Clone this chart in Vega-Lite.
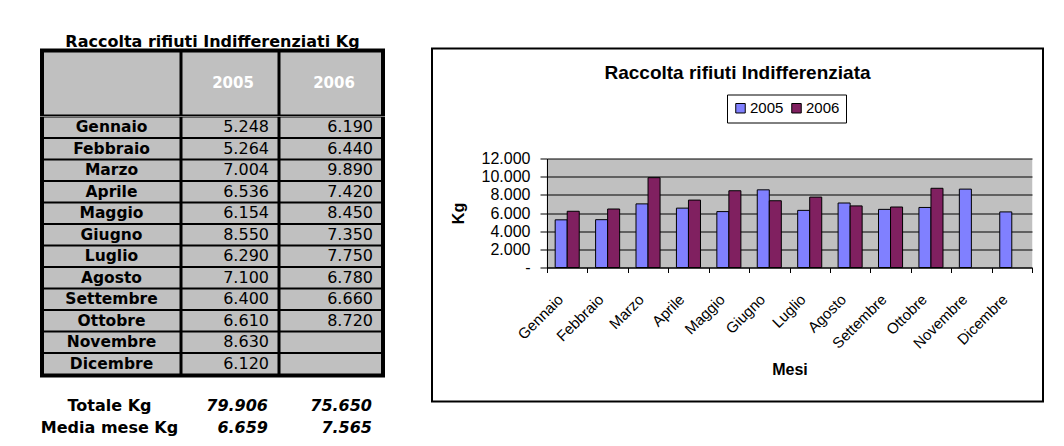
{
  "$schema": "https://vega.github.io/schema/vega-lite/v6.json",
  "background": "white",
  "padding": {"left": 40, "top": 33.5, "right": 0, "bottom": 0},
  "datasets": {
    "kg": [
      {"mese": "Gennaio", "anno": "2005", "kg": 5248},
      {"mese": "Febbraio", "anno": "2005", "kg": 5264},
      {"mese": "Marzo", "anno": "2005", "kg": 7004},
      {"mese": "Aprile", "anno": "2005", "kg": 6536},
      {"mese": "Maggio", "anno": "2005", "kg": 6154},
      {"mese": "Giugno", "anno": "2005", "kg": 8550},
      {"mese": "Luglio", "anno": "2005", "kg": 6290},
      {"mese": "Agosto", "anno": "2005", "kg": 7100},
      {"mese": "Settembre", "anno": "2005", "kg": 6400},
      {"mese": "Ottobre", "anno": "2005", "kg": 6610},
      {"mese": "Novembre", "anno": "2005", "kg": 8630},
      {"mese": "Dicembre", "anno": "2005", "kg": 6120},
      {"mese": "Gennaio", "anno": "2006", "kg": 6190},
      {"mese": "Febbraio", "anno": "2006", "kg": 6440},
      {"mese": "Marzo", "anno": "2006", "kg": 9890},
      {"mese": "Aprile", "anno": "2006", "kg": 7420},
      {"mese": "Maggio", "anno": "2006", "kg": 8450},
      {"mese": "Giugno", "anno": "2006", "kg": 7350},
      {"mese": "Luglio", "anno": "2006", "kg": 7750},
      {"mese": "Agosto", "anno": "2006", "kg": 6780},
      {"mese": "Settembre", "anno": "2006", "kg": 6660},
      {"mese": "Ottobre", "anno": "2006", "kg": 8720}
    ],
    "totali": [
      {"voce": "Totale Kg", "v2005": 79906, "v2006": 75650},
      {"voce": "Media mese Kg", "v2005": 6659, "v2006": 7565}
    ]
  },
  "config": {
    "view": {"stroke": null},
    "font": "DejaVu Sans",
    "locale": {"number": {"decimal": ",", "thousands": ".", "grouping": [3], "currency": ["", " €"]}},
    "text": {"color": "black"}
  },
  "spacing": 46,
  "hconcat": [
    {
      "title": {"text": "Raccolta rifiuti Indifferenziati Kg", "font": "DejaVu Sans", "fontSize": 16, "fontWeight": "bold", "color": "black", "anchor": "middle", "baseline": "top", "offset": -1},
      "spacing": 17,
      "vconcat": [
        {
          "spacing": 0,
          "vconcat": [
            {
              "spacing": 0,
              "hconcat": [
                {"width": 141, "height": 67.5, "view": {"fill": "black"},
                 "data": {"values": [{"anno": ""}]},
                 "mark": {"type": "rect", "fill": "#c0c0c0", "xOffset": 4, "x2Offset": -1.5, "yOffset": 4, "y2Offset": -1.5},
                 "encoding": {
                   "x": {"datum": 0, "type": "quantitative", "scale": {"domain": [0, 1], "nice": false, "zero": false}, "axis": null},
                   "x2": {"datum": 1},
                   "y": {"datum": 1, "type": "quantitative", "scale": {"domain": [0, 1], "nice": false, "zero": false}, "axis": null},
                   "y2": {"datum": 0}
                 }},
                {"width": 98, "height": 67.5, "view": {"fill": "black"},
                 "data": {"values": [{"anno": "2005"}]},
                 "layer": [
                   {"mark": {"type": "rect", "fill": "#c0c0c0", "xOffset": 1.5, "x2Offset": -1.5, "yOffset": 4, "y2Offset": -1.5},
                    "encoding": {
                      "x": {"datum": 0, "type": "quantitative", "scale": {"domain": [0, 1], "nice": false, "zero": false}, "axis": null},
                      "x2": {"datum": 1},
                      "y": {"datum": 1, "type": "quantitative", "scale": {"domain": [0, 1], "nice": false, "zero": false}, "axis": null},
                      "y2": {"datum": 0}
                    }},
                   {"mark": {"type": "text", "color": "white", "fontWeight": "bold", "fontSize": 15, "font": "DejaVu Sans", "dy": 1, "dx": 3},
                    "encoding": {"text": {"field": "anno", "type": "nominal"}}}
                 ]},
                {"width": 106, "height": 67.5, "view": {"fill": "black"},
                 "data": {"values": [{"anno": "2006"}]},
                 "layer": [
                   {"mark": {"type": "rect", "fill": "#c0c0c0", "xOffset": 1.5, "x2Offset": -4, "yOffset": 4, "y2Offset": -1.5},
                    "encoding": {
                      "x": {"datum": 0, "type": "quantitative", "scale": {"domain": [0, 1], "nice": false, "zero": false}, "axis": null},
                      "x2": {"datum": 1},
                      "y": {"datum": 1, "type": "quantitative", "scale": {"domain": [0, 1], "nice": false, "zero": false}, "axis": null},
                      "y2": {"datum": 0}
                    }},
                   {"mark": {"type": "text", "color": "white", "fontWeight": "bold", "fontSize": 15, "font": "DejaVu Sans", "dy": 1, "dx": 2},
                    "encoding": {"text": {"field": "anno", "type": "nominal"}}}
                 ]}
              ]
            },
            {
              "spacing": 0,
              "hconcat": [
                {"width": 141, "height": 261, "view": {"fill": "black"},
                 "data": {"name": "kg"},
                 "transform": [{"filter": "datum.anno == '2005'"}],
                 "encoding": {"y": {"field": "mese", "type": "nominal", "axis": null,
                   "scale": {"domain": ["Gennaio","Febbraio","Marzo","Aprile","Maggio","Giugno","Luglio","Agosto","Settembre","Ottobre","Novembre","Dicembre"], "range": [0, 258], "paddingInner": 0.093, "paddingOuter": 0.0465}}},
                 "layer": [
                   {"mark": {"type": "rect", "fill": "#c0c0c0", "xOffset": 4, "x2Offset": -1.5},
                    "encoding": {
                      "x": {"datum": 0, "type": "quantitative", "scale": {"domain": [0, 1], "nice": false, "zero": false}, "axis": null},
                      "x2": {"datum": 1}
                    }},
                   {"mark": {"type": "text", "fontWeight": "bold", "fontSize": 15.5, "font": "DejaVu Sans", "dx": 1},
                    "encoding": {"text": {"field": "mese", "type": "nominal"}}}
                 ]},
                {"width": 98, "height": 261, "view": {"fill": "black"},
                 "data": {"name": "kg"},
                 "transform": [{"filter": "datum.anno == '2005'"}],
                 "encoding": {"y": {"field": "mese", "type": "nominal", "axis": null,
                   "scale": {"domain": ["Gennaio","Febbraio","Marzo","Aprile","Maggio","Giugno","Luglio","Agosto","Settembre","Ottobre","Novembre","Dicembre"], "range": [0, 258], "paddingInner": 0.093, "paddingOuter": 0.0465}}},
                 "layer": [
                   {"mark": {"type": "rect", "fill": "#c0c0c0", "xOffset": 1.5, "x2Offset": -1.5},
                    "encoding": {
                      "x": {"datum": 0, "type": "quantitative", "scale": {"domain": [0, 1], "nice": false, "zero": false}, "axis": null},
                      "x2": {"datum": 1}
                    }},
                   {"mark": {"type": "text", "fontSize": 16, "font": "DejaVu Sans", "align": "right", "dx": 39},
                    "encoding": {"text": {"field": "kg", "type": "quantitative", "format": ",d"}}}
                 ]},
                {"width": 106, "height": 261, "view": {"fill": "black"},
                 "data": {"name": "kg"},
                 "encoding": {"y": {"field": "mese", "type": "nominal", "axis": null,
                   "scale": {"domain": ["Gennaio","Febbraio","Marzo","Aprile","Maggio","Giugno","Luglio","Agosto","Settembre","Ottobre","Novembre","Dicembre"], "range": [0, 258], "paddingInner": 0.093, "paddingOuter": 0.0465}}},
                 "layer": [
                   {"transform": [{"filter": "datum.anno == '2005'"}],
                    "mark": {"type": "rect", "fill": "#c0c0c0", "xOffset": 1.5, "x2Offset": -4},
                    "encoding": {
                      "x": {"datum": 0, "type": "quantitative", "scale": {"domain": [0, 1], "nice": false, "zero": false}, "axis": null},
                      "x2": {"datum": 1}
                    }},
                   {"transform": [{"filter": "datum.anno == '2006'"}],
                    "mark": {"type": "text", "fontSize": 16, "font": "DejaVu Sans", "align": "right", "dx": 41},
                    "encoding": {"text": {"field": "kg", "type": "quantitative", "format": ",d"}}}
                 ]}
              ]
            }
          ]
        },
        {
          "spacing": 0,
          "hconcat": [
            {"width": 141, "height": 44, "data": {"name": "totali"},
             "mark": {"type": "text", "fontWeight": "bold", "fontSize": 16, "font": "DejaVu Sans", "dx": -1},
             "encoding": {
               "y": {"field": "voce", "type": "nominal", "axis": null, "scale": {"domain": ["Totale Kg", "Media mese Kg"], "paddingInner": 0, "paddingOuter": 0}},
               "text": {"field": "voce", "type": "nominal"}}},
            {"width": 98, "height": 44, "data": {"name": "totali"},
             "mark": {"type": "text", "fontWeight": "bold", "fontStyle": "italic", "fontSize": 16, "font": "DejaVu Sans", "align": "right", "dx": 38},
             "encoding": {
               "y": {"field": "voce", "type": "nominal", "axis": null, "scale": {"domain": ["Totale Kg", "Media mese Kg"], "paddingInner": 0, "paddingOuter": 0}},
               "text": {"field": "v2005", "type": "quantitative", "format": ",d"}}},
            {"width": 106, "height": 44, "data": {"name": "totali"},
             "mark": {"type": "text", "fontWeight": "bold", "fontStyle": "italic", "fontSize": 16, "font": "DejaVu Sans", "align": "right", "dx": 40},
             "encoding": {
               "y": {"field": "voce", "type": "nominal", "axis": null, "scale": {"domain": ["Totale Kg", "Media mese Kg"], "paddingInner": 0, "paddingOuter": 0}},
               "text": {"field": "v2006", "type": "quantitative", "format": ",d"}}}
          ]
        }
      ]
    },
    {
      "title": {"text": " ", "fontSize": 7, "baseline": "top", "offset": 0.5},
      "vconcat": [
        {
          "width": 611,
          "height": 353,
          "view": {"stroke": "black", "strokeWidth": 2, "fill": "white"},
          "title": {"text": "Raccolta rifiuti Indifferenziata", "font": "Liberation Sans", "fontSize": 19, "fontWeight": "bold", "color": "black", "anchor": "middle", "frame": "group", "baseline": "alphabetic", "offset": -49},
          "data": {"name": "kg"},
          "encoding": {
            "xOffset": {"field": "anno", "type": "nominal", "scale": {"domain": ["2005", "2006"], "paddingInner": 0, "paddingOuter": 0.68}},
            "y": {
              "field": "kg", "type": "quantitative", "title": "Kg",
              "scale": {"domain": [0, 12000], "range": [219, 110], "nice": false, "zero": true},
              "axis": {
                "orient": "left", "offset": -115,
                "values": [0, 2000, 4000, 6000, 8000, 10000, 12000],
                "format": ",d",
                "labelExpr": "datum.value === 0 ? '-' : datum.label",
                "domainColor": "black", "domainWidth": 1,
                "tickColor": "black", "tickSize": 7,
                "grid": true, "gridColor": "black", "gridWidth": 1,
                "labelFont": "Liberation Sans", "labelFontSize": 16, "labelColor": "black", "labelPadding": 10, "labelOverlap": false,
                "titleFont": "Liberation Sans", "titleFontSize": 16, "titleFontWeight": "bold", "titleColor": "black", "titlePadding": 15
              }
            },
            "color": {
              "field": "anno", "type": "nominal",
              "scale": {"domain": ["2005", "2006"], "range": ["#8080ff", "#802060"]},
              "legend": {
                "orient": "none", "legendX": 687, "legendY": 46, "direction": "horizontal", "title": null,
                "strokeColor": "black", "fillColor": "white", "padding": 6,
                "symbolType": "square", "symbolSize": 90, "symbolStrokeColor": "black", "symbolStrokeWidth": 1,
                "labelFont": "Liberation Sans", "labelFontSize": 15, "labelColor": "black", "labelOffset": 2, "columnPadding": 5
              }
            }
          },
          "resolve": {"axis": {"x": "independent"}},
          "layer": [
            {
              "transform": [{"filter": "datum.anno == '2005'"}],
              "mark": {"type": "bar", "stroke": "black", "strokeWidth": 1},
              "encoding": {
                "x": {
                  "field": "mese", "type": "nominal", "title": "Mesi",
                  "scale": {"domain": ["Gennaio","Febbraio","Marzo","Aprile","Maggio","Giugno","Luglio","Agosto","Settembre","Ottobre","Novembre","Dicembre"], "range": [115, 600], "paddingInner": 0, "paddingOuter": 0},
                  "axis": {
                    "orient": "bottom", "offset": -134,
                    "domainColor": "black", "domainWidth": 1,
                    "ticks": true, "tickColor": "black", "tickSize": 5, "tickBand": "extent",
                    "grid": false,
                    "labelAngle": -45, "labelFont": "Liberation Sans", "labelFontSize": 15, "labelColor": "black",
                    "labelPadding": 19, "labelOffset": -12, "labelOverlap": false, "labelBound": false,
                    "titleFont": "Liberation Sans", "titleFontSize": 16, "titleFontWeight": "bold", "titleColor": "black", "titlePadding": 10
                  }
                }
              }
            },
            {
              "transform": [{"filter": "datum.anno == '2006'"}],
              "mark": {"type": "bar", "stroke": "black", "strokeWidth": 1},
              "encoding": {
                "x": {
                  "field": "mese", "type": "nominal", "title": null,
                  "scale": {"domain": ["Gennaio","Febbraio","Marzo","Aprile","Maggio","Giugno","Luglio","Agosto","Settembre","Ottobre","Novembre","Dicembre"], "range": [115, 600], "paddingInner": 0, "paddingOuter": 0},
                  "axis": {
                    "orient": "top", "offset": 0,
                    "domain": false, "ticks": false, "labels": false, "title": null,
                    "grid": true, "gridColor": "#c0c0c0", "gridWidth": 41.5
                  }
                }
              }
            }
          ]
        }
      ]
    }
  ]
}
